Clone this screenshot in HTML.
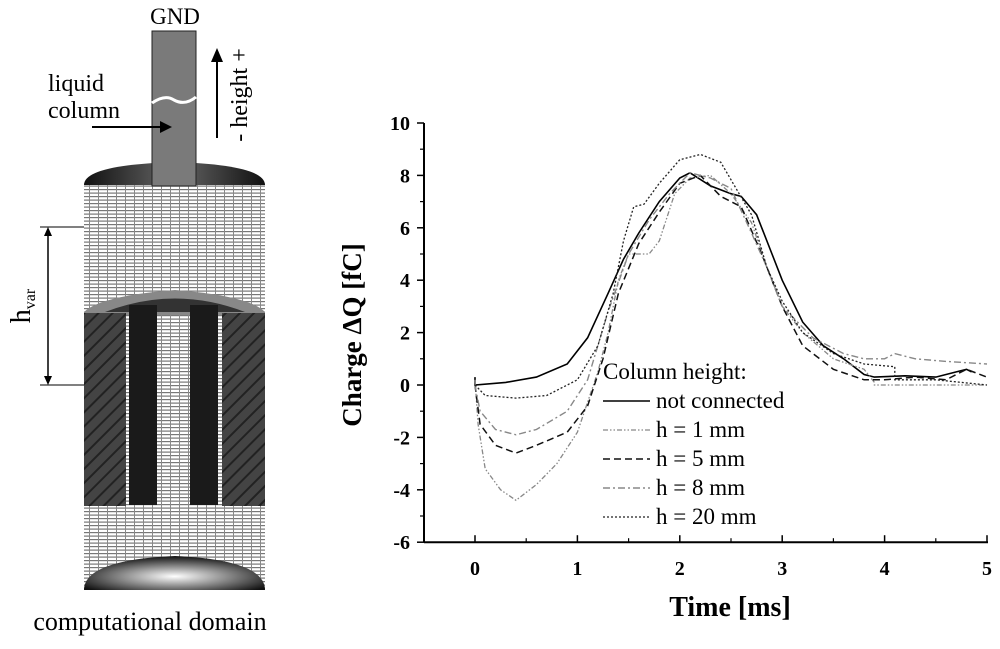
<!DOCTYPE html>
<html><head><meta charset="utf-8"><style>
body{margin:0;background:#fff;width:1000px;height:644px;overflow:hidden;font-family:"Liberation Serif",serif}
</style></head><body>
<svg width="1000" height="644" viewBox="0 0 1000 644" xmlns="http://www.w3.org/2000/svg">
<defs>
<pattern id="mesh" width="9" height="3.5" patternUnits="userSpaceOnUse"><rect width="9" height="3.5" fill="#fff"/><rect width="9" height="1.2" fill="#777"/><rect x="8" width="1" height="3.5" fill="#888"/></pattern>
<pattern id="hatch" width="10" height="10" patternUnits="userSpaceOnUse" patternTransform="rotate(45)"><rect width="10" height="10" fill="#444"/><rect width="2" height="10" fill="#222"/></pattern>
<radialGradient id="cap" cx="0.5" cy="0.6" r="0.6"><stop offset="0" stop-color="#fff"/><stop offset="1" stop-color="#111"/></radialGradient>
<linearGradient id="topcap" x1="0" x2="1"><stop offset="0" stop-color="#111"/><stop offset="0.5" stop-color="#666"/><stop offset="1" stop-color="#111"/></linearGradient>
</defs>
<g>
<text x="175" y="24" font-size="23" text-anchor="middle">GND</text>
<path d="M84 185 Q84 165 175 162 Q265 165 265 185 Z" fill="url(#topcap)"/>
<rect x="84" y="185" width="181" height="405" fill="url(#mesh)"/>
<path d="M84 312 Q100 296 175 290 Q250 296 265 312 L265 315 L84 315 Z" fill="#888"/>
<path d="M105 312 Q175 285 245 312 Z" fill="#333"/>
<rect x="84" y="313" width="42" height="193" fill="url(#hatch)"/>
<rect x="222" y="313" width="43" height="193" fill="url(#hatch)"/>
<rect x="129" y="305" width="28" height="200" fill="#1a1a1a"/>
<rect x="190" y="305" width="28" height="200" fill="#1a1a1a"/>
<path d="M84 590 Q84 560 175 556 Q265 560 265 590 Z" fill="url(#cap)"/>
<rect x="152" y="31" width="44" height="155" fill="#7a7a7a" stroke="#222"/>
<path d="M152 103 Q165 94 174 100 Q185 106 196 97" stroke="#fff" stroke-width="3" fill="none"/>
<text x="48" y="91" font-size="24">liquid</text>
<text x="48" y="118" font-size="24">column</text>
<line x1="92" y1="127" x2="165" y2="127" stroke="#000" stroke-width="2"/><path d="M172 127 L160 121 L160 133Z"/>
<line x1="217" y1="138" x2="217" y2="60" stroke="#000" stroke-width="2"/><path d="M217 48 L211 62 L223 62Z"/>
<text transform="translate(247,95) rotate(-90)" font-size="24" text-anchor="middle">- height +</text>
<line x1="40" y1="227" x2="84" y2="227" stroke="#000"/><line x1="40" y1="385" x2="84" y2="385" stroke="#000"/>
<line x1="48" y1="230" x2="48" y2="382" stroke="#000" stroke-width="1.5"/><path d="M48 227 L44 236 L52 236Z M48 385 L44 376 L52 376Z"/>
<text transform="translate(30,306) rotate(-90)" font-size="28" text-anchor="middle">h<tspan font-size="16" dy="5">var</tspan></text>
<text x="150" y="630" font-size="26" text-anchor="middle">computational domain</text>
</g>
<g id="chart"></g>
</svg>
<script>
const xTicks=[0,1,2,3,4,5];
const yTicks=[-6,-4,-2,0,2,4,6,8,10];
const seriesNames=["not connected","h = 1 mm","h = 5 mm","h = 8 mm","h = 20 mm"];
const tNC=[0,0,0.3,0.6,0.9,1.1,1.3,1.45,1.6,1.8,2.0,2.1,2.3,2.5,2.6,2.75,2.9,3.0,3.2,3.4,3.6,3.8,3.9,4.2,4.5,4.7,4.8,4.85];
const qNC=[0.3,0,0.1,0.3,0.8,1.8,3.5,4.8,5.8,7.0,7.9,8.1,7.6,7.3,7.2,6.5,5.0,4.0,2.4,1.5,1.0,0.4,0.3,0.35,0.3,0.5,0.6,0.5];
const tH1=[0,0.03,0.1,0.25,0.4,0.6,0.8,1.0,1.2,1.3,1.4,1.5,1.7,1.8,1.95,2.1,2.3,2.5,2.7,2.85,3.0,3.2,3.5,3.8,3.9,3.9,5];
const qH1=[0.2,-1.5,-3.2,-4.0,-4.4,-3.8,-3.0,-1.8,0.5,2.0,4.0,5.0,5.0,5.5,7.3,7.9,8.0,7.3,6.2,4.5,3.0,2.0,1.0,0.6,0.1,0,0];
const tH5=[0,0.05,0.2,0.4,0.6,0.9,1.1,1.25,1.4,1.6,1.8,2.0,2.2,2.4,2.6,2.8,3.0,3.2,3.5,3.8,4.0,4.3,4.6,4.8,5];
const qH5=[0,-1.5,-2.3,-2.6,-2.3,-1.8,-0.8,1.0,3.5,5.4,6.6,7.7,8.0,7.2,6.8,5.0,3.0,1.5,0.6,0.2,0.2,0.3,0.2,0.6,0.3];
const tH8=[0,0.05,0.2,0.4,0.6,0.9,1.1,1.3,1.5,1.7,1.9,2.1,2.3,2.5,2.7,2.85,3.0,3.3,3.6,3.8,4.0,4.1,4.3,4.6,5];
const qH8=[0,-1.0,-1.7,-1.9,-1.7,-1.0,0.2,2.8,5.0,6.3,7.3,8.1,7.9,7.5,5.8,4.5,3.0,1.8,1.2,1.0,1.0,1.2,1.0,0.9,0.8];
const tH20=[0,0.1,0.4,0.7,1.0,1.2,1.35,1.45,1.55,1.65,1.8,2.0,2.2,2.4,2.55,2.7,2.85,3.0,3.2,3.5,3.8,4.1,4.1,4.5,5];
const qH20=[0,-0.4,-0.5,-0.4,0.2,1.5,3.5,5.5,6.8,6.9,7.7,8.6,8.8,8.5,7.5,6.5,4.5,3.2,2.0,1.2,0.8,0.7,0.2,0.2,0];
const NS="http://www.w3.org/2000/svg";
const g=document.getElementById('chart');
const X=v=>475+v*102.4, Y=v=>385-v*26.2;
function mk(tag,at){const e=document.createElementNS(NS,tag);for(const k in at)e.setAttribute(k,at[k]);g.appendChild(e);return e;}
let e=mk('line',{x1:424,y1:Y(-6),x2:424,y2:Y(10),stroke:'#000','stroke-width':2});


e=mk('line',{x1:424,y1:Y(-6),x2:988,y2:Y(-6),stroke:'#000','stroke-width':2});


yTicks.forEach(v=>{
  mk('line',{x1:417,x2:424,y1:Y(v),y2:Y(v),stroke:'#000','stroke-width':1.5});
  if(v<10)mk('line',{x1:420,x2:424,y1:Y(v+1),y2:Y(v+1),stroke:'#000','stroke-width':1.2});
  const t=mk('text',{x:410,y:Y(v)+7,'font-size':20,'font-weight':'bold','text-anchor':'end'});t.textContent=v;
  
  
});
xTicks.forEach(v=>{
  mk('line',{x1:X(v),x2:X(v),y1:Y(-6),y2:Y(-6)-7,stroke:'#000','stroke-width':1.5});
  if(v<5)mk('line',{x1:X(v+0.5),x2:X(v+0.5),y1:Y(-6),y2:Y(-6)-4,stroke:'#000','stroke-width':1.2});
  const t=mk('text',{x:X(v),y:575,'font-size':20,'font-weight':'bold','text-anchor':'middle'});t.textContent=v;
  
  
});
mk('line',{x1:X(-0.5),x2:X(-0.5),y1:Y(-6),y2:Y(-6)-4,stroke:'#000','stroke-width':1.2});
e=mk('text',{x:730,y:616,'font-size':28,'font-weight':'bold','text-anchor':'middle'});e.textContent='Time [ms]';


e=mk('text',{transform:'translate(361,335) rotate(-90)','font-size':27,'font-weight':'bold','text-anchor':'middle'});e.textContent='Charge ΔQ [fC]';


const styles=[{s:'#000',d:'',w:1.6},{s:'#888',d:'5 2 1.5 2 1.5 2',w:1.3},{s:'#111',d:'7 4',w:1.5},{s:'#888',d:'7 3 2 3',w:1.4},{s:'#222',d:'2 2',w:1.3}];
const data=[[tNC,qNC],[tH1,qH1],[tH5,qH5],[tH8,qH8],[tH20,qH20]];
data.forEach((d,i)=>{
  const pts=d[0].map((t,j)=>X(t).toFixed(1)+','+Y(d[1][j]).toFixed(1)).join(' ');
  const p=mk('polyline',{points:pts,fill:'none',stroke:styles[i].s,'stroke-width':styles[i].w,'stroke-dasharray':styles[i].d});
  
  
});
e=mk('text',{x:603,y:379,'font-size':23});e.textContent='Column height:';


seriesNames.forEach((n,i)=>{
  const y=408+i*29;
  mk('line',{x1:603,x2:650,y1:y-7,y2:y-7,stroke:styles[i].s,'stroke-width':styles[i].w,'stroke-dasharray':styles[i].d});
  const t=mk('text',{x:656,y:y,'font-size':23});t.textContent=n;
  
  
});
</script>
</body></html>
